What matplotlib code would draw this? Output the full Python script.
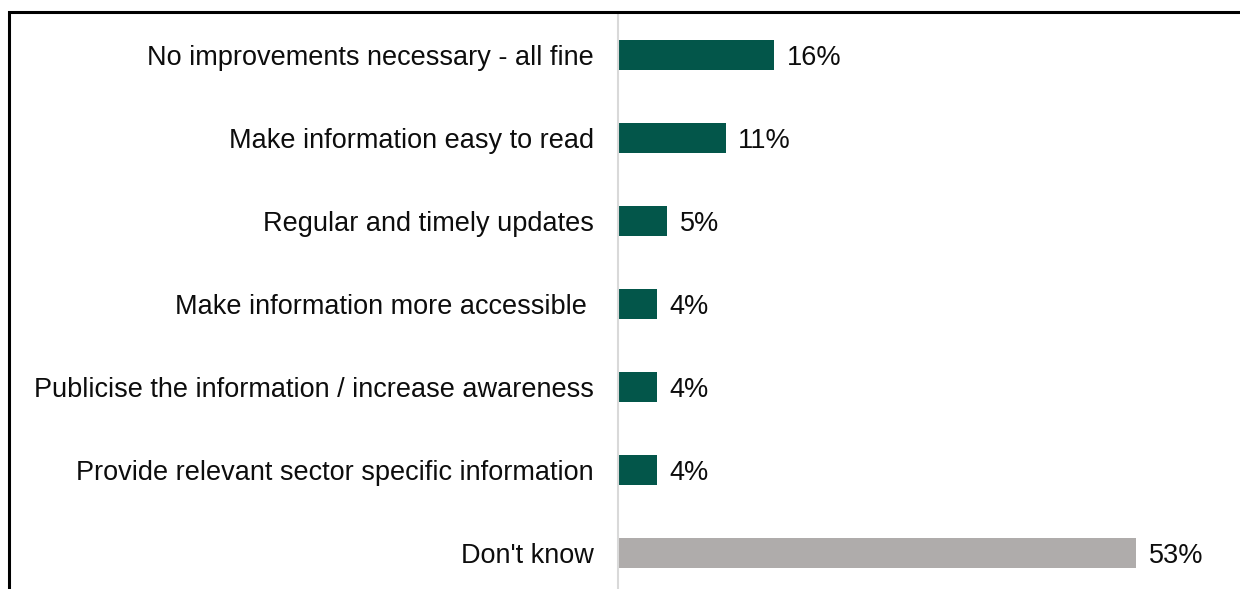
import matplotlib.pyplot as plt
from matplotlib.patches import Rectangle

categories = [
    "No improvements necessary - all fine",
    "Make information easy to read",
    "Regular and timely updates",
    "Make information more accessible ",
    "Publicise the information / increase awareness",
    "Provide relevant sector specific information",
    "Don't know",
]
values = [16, 11, 5, 4, 4, 4, 53]
colors = ["#03564a"] * 6 + ["#afacab"]

plt.rcParams["font.family"] = ["Liberation Sans", "DejaVu Sans"]

W, H = 1240, 589
fig = plt.figure(figsize=(W / 100, H / 100), dpi=100)

# axes placed in pixel terms: zero line at x=618, rows 83px apart
left = 618 / W
top = 1 - 13.5 / H
bottom = 1 - 594.5 / H
ax = fig.add_axes([left, bottom, 1 - left, top - bottom])

y = range(len(categories))
ax.barh(y, values, height=0.35, color=colors)
ax.set_ylim(len(categories) - 0.5, -0.5)
ax.set_xlim(0, (W - 618) / 9.78)

for i, v in enumerate(values):
    ax.text(v + 1.3, i, f"{v}%", va="center_baseline", ha="left",
            fontsize=19.5, color="#0d0d0d")

ax.set_yticks(list(y))
ax.set_yticklabels(categories, fontsize=19.5, color="#0d0d0d",
                   va="center_baseline")
ax.tick_params(axis="y", length=0, pad=17.3)
ax.set_xticks([])
for s in ["top", "right", "bottom"]:
    ax.spines[s].set_visible(False)
ax.spines["left"].set_color("#d9d9d9")
ax.spines["left"].set_linewidth(1.5)
ax.patch.set_alpha(0)

# outer frame (only top and left edges are visible in the crop)
fig.patches.append(Rectangle((9 / W, -0.1), 1.2, 1 - 12 / H + 0.1,
                             transform=fig.transFigure, fill=False,
                             edgecolor="black", linewidth=2.2, zorder=5))

fig.savefig("out.png", dpi=100)
